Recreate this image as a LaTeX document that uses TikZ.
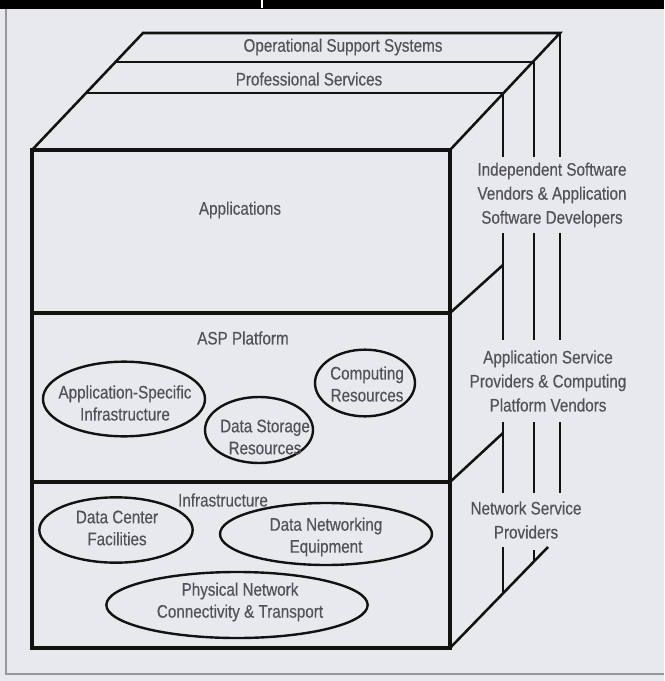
\documentclass[tikz,border=0pt]{standalone}
\usepackage{fontspec}
\setmainfont{Liberation Sans}[FakeStretch=0.84,FakeBold=0.3]
\usetikzlibrary{shapes.geometric}
\definecolor{bgc}{RGB}{231,233,236}
\definecolor{txt}{RGB}{82,82,88}
\definecolor{ink}{RGB}{18,18,18}
\definecolor{frame}{RGB}{150,152,156}
\begin{document}
\begin{tikzpicture}[x=0.75pt,y=-0.75pt,
  boxline/.style={draw=ink,line width=2.3pt,line join=miter},
  slabline/.style={draw=ink,line width=1.9pt},
  vline/.style={draw=ink,line width=1.6pt},
  oval/.style={draw=ink,line width=1.8pt,ellipse,inner sep=0pt},
  lbl/.style={text=txt,font=\fontsize{13.6}{16.5}\selectfont,inner sep=0pt,align=center},
  rlbl/.style={text=txt,font=\fontsize{13.6}{18}\selectfont,inner sep=0pt,align=center}]
% canvas
\fill[bgc] (0,0) rectangle (664,681);
\useasboundingbox (0,0) rectangle (664,681);
\fill[black] (0,0) rectangle (664,9);
\draw[white,line width=0.8pt] (262,0) -- (262,8);
\draw[frame,line width=1pt] (6,9) -- (6,674) -- (664,674);
% top slabs
\draw[slabline] (32,150) -- (143,33) -- (560,33) -- (450,150);
\draw[slabline] (117,62) -- (533,62);
\draw[slabline] (87,93) -- (503,93);
% front box
\draw[boxline] (32,150) rectangle (450,648);
\draw[boxline] (32,313) -- (450,313);
\draw[boxline] (32,482) -- (450,482);
% right face diagonals
\draw[slabline] (450,313) -- (503,265);
\draw[slabline] (450,482) -- (503,433);
\draw[slabline] (450,648) -- (548,547);
% right verticals
\draw[vline] (503,93) -- (503,157);
\draw[vline] (534,62) -- (534,157);
\draw[vline] (560,33) -- (560,157);
\draw[vline] (503,233) -- (503,340);
\draw[vline] (534,233) -- (534,340);
\draw[vline] (560,233) -- (560,340);
\draw[vline] (503,422) -- (503,493);
\draw[vline] (534,422) -- (534,493);
\draw[vline] (560,422) -- (560,493);
\draw[vline] (503,547) -- (503,593);
\draw[vline] (534,550) -- (534,561);
% slab and layer labels
\node[lbl] (oss) at (343,47) {Operational Support Systems};
\node[lbl] (ps) at (309,79) {Professional Services};
\node[lbl] (app) at (240,210) {Applications};
\node[lbl] (asp) at (243,338) {ASP Platform};
\node[lbl] (inf) at (223,500) {Infrastructure};
% right labels
\node[rlbl] (isv) at (552,195) {Independent Software\\Vendors \& Application\\Software Developers};
\node[rlbl] (aspv) at (548,381) {Application Service\\Providers \& Computing\\Platform Vendors};
\node[rlbl] (nsp) at (526,520) {Network Service\\Providers};
% ASP platform ovals
\node[oval,minimum width=121.5pt,minimum height=56pt] (asi) at (124,399) {};
\node[lbl] (asit) at (125,403) {Application-Specific\\Infrastructure};
\node[oval,minimum width=81pt,minimum height=49.5pt] (dsr) at (259,430) {};
\node[lbl] (dsrt) at (265,437) {Data Storage\\Resources};
\node[oval,minimum width=75pt,minimum height=50pt] (cr) at (365,383) {};
\node[lbl] (crt) at (367,384) {Computing\\Resources};
% infrastructure ovals
\node[oval,minimum width=115pt,minimum height=49pt] (dcf) at (116,530) {};
\node[lbl] (dcft) at (117,528) {Data Center\\Facilities};
\node[oval,minimum width=159pt,minimum height=46.5pt] (dne) at (326,534) {};
\node[lbl] (dnet) at (326,537) {Data Networking\\Equipment};
\node[oval,minimum width=196pt,minimum height=49.5pt] (pnc) at (237,605) {};
\node[lbl] (pnct) at (240,602) {Physical Network\\Connectivity \& Transport};
\end{tikzpicture}
\end{document}
